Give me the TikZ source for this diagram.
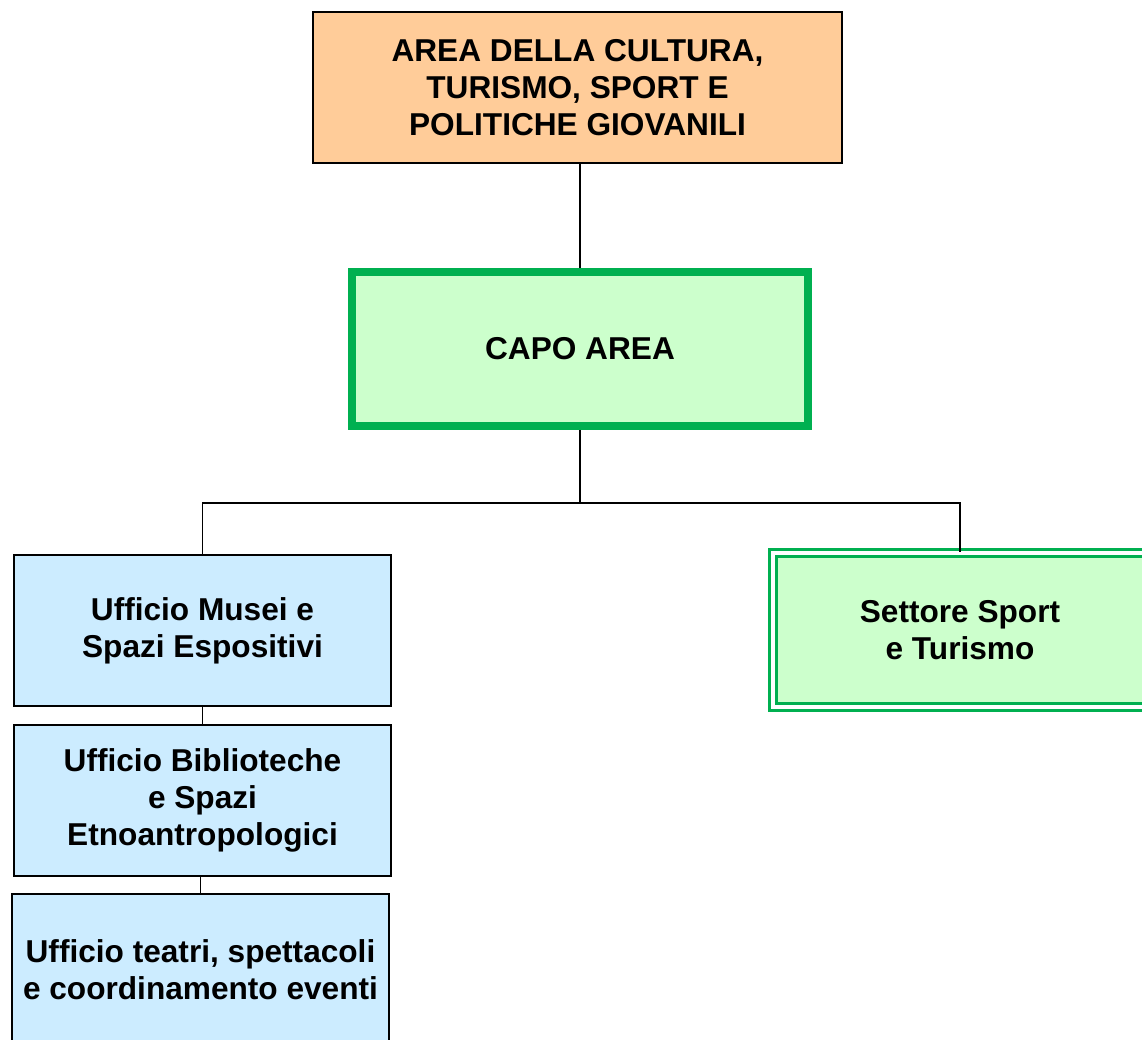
\documentclass[tikz,border=0pt]{standalone}
\usepackage{fontspec}
\setmainfont{Liberation Sans}
\usepackage{xcolor}
\usetikzlibrary{positioning}

\definecolor{areaorange}{HTML}{FFCC99}
\definecolor{capofill}{HTML}{CCFFCC}
\definecolor{capoline}{HTML}{00B050}
\definecolor{ufficioblue}{HTML}{CCECFF}

\tikzset{
    box/.style={draw=black,line width=0.04cm,align=center,inner sep=0pt,
        font=\fontsize{18}{21.2}\selectfont\bfseries},
    link/.style={draw=black,line width=0.035cm}
}

\begin{document}
\begin{tikzpicture}[x=0.02cm,y=-0.02cm]
            \useasboundingbox (0,0) rectangle (1142,1040);
            \clip (0,0) rectangle (1142,1040);

            \node[box,fill=areaorange,minimum width=10.58cm,minimum height=3.02cm] (area) at (577.5,87.5)
                {AREA DELLA CULTURA,\\TURISMO, SPORT E\\POLITICHE GIOVANILI};
            \node[box,fill=capofill,draw=capoline,line width=0.16cm,minimum width=9.12cm,minimum height=3.08cm] (capo) at (580,349)
                {CAPO AREA};

            \node[box,fill=ufficioblue,minimum width=7.54cm,minimum height=3.02cm] (musei) at (202.5,630.5)
                {Ufficio Musei e\\Spazi Espositivi};
            \node[box,fill=ufficioblue,minimum width=7.54cm,minimum height=3.02cm] (biblio) at (202.5,800.5)
                {Ufficio Biblioteche\\e Spazi\\Etnoantropologici};
            \node[box,fill=ufficioblue,minimum width=7.54cm,minimum height=3.04cm] (teatri) at (200.5,970)
                {Ufficio teatri, spettacoli\\e coordinamento eventi};

            \node[box,fill=capofill,draw=capoline,line width=0.06cm,double=white,double distance=0.08cm,
                minimum width=7.5cm,minimum height=3.08cm] (settore) at (960,630)
                {Settore Sport\\e Turismo};

            \coordinate (bus) at (580,503);
            \draw[link] (capo.north) -- (capo.north |- area.south);
            \draw[link] (capo.south) -- (bus);
            \draw[link] (musei.north) |- (bus) -| (settore.north);
            \draw[link] (musei.south) -- (biblio.north);
            \draw[link] (teatri.north) -- (teatri.north |- biblio.south);
\end{tikzpicture}
\end{document}
